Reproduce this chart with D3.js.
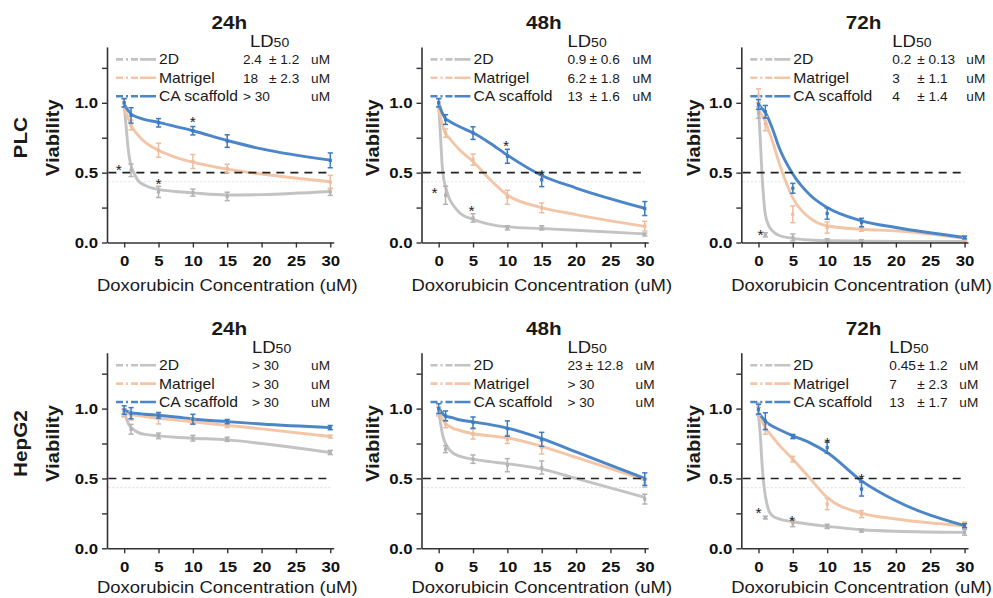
<!DOCTYPE html>
<html>
<head>
<meta charset="utf-8">
<script src="https://cdn.jsdelivr.net/npm/d3@7"></script>
<style>
  body { margin: 0; background: #fff; }
  svg { display: block; font-family: "Liberation Sans", Arial, sans-serif; }
</style>
</head>
<body>
<div id="chart"></div>
<script>
// measured doxorubicin concentrations (uM)
var conc = [0, 1, 5, 10, 15, 30];
// concentrations at which the fitted curves were read
var fitConc = [0, 0.25, 0.5, 0.75, 1, 1.5, 2, 3, 5, 7.5, 10, 15, 20, 30];

var series = ["2D", "Matrigel", "CA scaffold"];
var cellLines = ["PLC", "HepG2"];
var times = ["24h", "48h", "72h"];
var xTicks = [0, 5, 10, 15, 20, 25, 30];
var yTicks = [0, 0.25, 0.5, 0.75, 1, 1.25];
var yLabels = [0, 0.5, 1];

// --- PLC ---
var meanPLC24 = [[1.0, 0.517, 0.362, 0.357, 0.33, 0.362],
                 [1.0, 0.84, 0.66, 0.58, 0.53, 0.433],
                 [1.0, 0.91, 0.857, 0.80, 0.726, 0.588]];
var errPLC24  = [[0.03, 0.045, 0.04, 0.025, 0.03, 0.025],
                 [0.03, 0.035, 0.05, 0.05, 0.03, 0.048],
                 [0.03, 0.055, 0.03, 0.03, 0.045, 0.053]];
var fitPLC24  = [[0.98, 0.85, 0.71, 0.61, 0.55, 0.49, 0.445, 0.41, 0.38, 0.365, 0.355, 0.34, 0.343, 0.365],
                 [0.96, 0.93, 0.90, 0.87, 0.84, 0.80, 0.77, 0.72, 0.66, 0.61, 0.575, 0.525, 0.49, 0.435],
                 [0.99, 0.97, 0.95, 0.935, 0.92, 0.905, 0.895, 0.88, 0.86, 0.83, 0.80, 0.73, 0.67, 0.59]];
var starsPLC24 = [[-0.8, 0.53], [5, 0.43], [10, 0.88]];

var meanPLC48 = [[1.0, 0.338, 0.176, 0.105, 0.105, 0.057],
                 [1.0, 0.783, 0.593, 0.324, 0.248, 0.117],
                 [1.0, 0.88, 0.783, 0.617, 0.45, 0.243]];
var errPLC48  = [[0.03, 0.065, 0.03, 0.015, 0.015, 0.01],
                 [0.03, 0.03, 0.04, 0.05, 0.035, 0.035],
                 [0.03, 0.035, 0.045, 0.05, 0.05, 0.05]];
var fitPLC48  = [[0.98, 0.78, 0.56, 0.45, 0.40, 0.32, 0.275, 0.215, 0.165, 0.13, 0.112, 0.10, 0.088, 0.062],
                 [0.96, 0.90, 0.85, 0.81, 0.78, 0.75, 0.72, 0.665, 0.58, 0.45, 0.34, 0.25, 0.20, 0.115],
                 [0.99, 0.96, 0.93, 0.905, 0.885, 0.87, 0.855, 0.83, 0.785, 0.71, 0.625, 0.48, 0.39, 0.245]];
var starsPLC48 = [[-0.6, 0.37], [4.8, 0.243], [9.8, 0.705], [15, 0.5]];

var meanPLC72 = [[0.93, 0.055, 0.036, 0.017, 0.012, 0.007],
                 [1.05, 0.85, 0.202, 0.107, 0.095, 0.024],
                 [0.988, 0.936, 0.388, 0.207, 0.143, 0.036]];
var errPLC72  = [[0.04, 0.015, 0.025, 0.01, 0.008, 0.005],
                 [0.05, 0.05, 0.06, 0.04, 0.015, 0.01],
                 [0.035, 0.045, 0.035, 0.04, 0.03, 0.01]];
var fitPLC72  = [[0.96, 0.75, 0.50, 0.32, 0.20, 0.12, 0.085, 0.05, 0.03, 0.018, 0.012, 0.01, 0.008, 0.007],
                 [0.95, 0.93, 0.91, 0.89, 0.87, 0.80, 0.73, 0.57, 0.32, 0.175, 0.12, 0.095, 0.083, 0.03],
                 [0.99, 0.975, 0.96, 0.945, 0.93, 0.88, 0.82, 0.68, 0.49, 0.34, 0.25, 0.155, 0.107, 0.036]];
var starsPLC72 = [[0.3, 0.07]];

// --- HepG2 ---
var meanHep24 = [[0.97, 0.852, 0.805, 0.788, 0.78, 0.686],
                 [0.97, 0.948, 0.93, 0.907, 0.88, 0.80],
                 [0.99, 0.967, 0.952, 0.924, 0.907, 0.864]];
var errHep24  = [[0.025, 0.035, 0.02, 0.02, 0.015, 0.015],
                 [0.03, 0.03, 0.04, 0.02, 0.015, 0.01],
                 [0.03, 0.04, 0.02, 0.035, 0.015, 0.015]];
var fitHep24  = [[0.98, 0.94, 0.905, 0.88, 0.865, 0.845, 0.83, 0.815, 0.805, 0.795, 0.788, 0.776, 0.75, 0.686],
                 [0.97, 0.967, 0.963, 0.96, 0.957, 0.953, 0.95, 0.943, 0.93, 0.918, 0.905, 0.88, 0.855, 0.80],
                 [0.99, 0.985, 0.98, 0.975, 0.97, 0.967, 0.965, 0.96, 0.952, 0.94, 0.926, 0.907, 0.89, 0.864]];
var starsHep24 = [];

var meanHep48 = [[0.98, 0.71, 0.638, 0.595, 0.578, 0.352],
                 [0.98, 0.888, 0.817, 0.78, 0.72, 0.467],
                 [1.0, 0.948, 0.90, 0.857, 0.78, 0.495]];
var errHep48  = [[0.03, 0.025, 0.03, 0.047, 0.047, 0.035],
                 [0.03, 0.025, 0.035, 0.03, 0.045, 0.03],
                 [0.035, 0.035, 0.04, 0.055, 0.05, 0.045]];
var fitHep48  = [[0.98, 0.90, 0.83, 0.78, 0.75, 0.71, 0.685, 0.66, 0.638, 0.62, 0.605, 0.567, 0.50, 0.364],
                 [0.97, 0.95, 0.93, 0.91, 0.89, 0.875, 0.86, 0.845, 0.82, 0.805, 0.79, 0.73, 0.65, 0.49],
                 [1.0, 0.985, 0.97, 0.955, 0.945, 0.94, 0.935, 0.92, 0.905, 0.885, 0.86, 0.785, 0.69, 0.50]];
var starsHep48 = [];

var meanHep72 = [[1.0, 0.22, 0.18, 0.157, 0.126, 0.114],
                 [0.98, 0.852, 0.638, 0.317, 0.245, 0.167],
                 [0.995, 0.91, 0.80, 0.721, 0.424, 0.162]];
var errHep72  = [[0.04, 0.01, 0.025, 0.015, 0.01, 0.02],
                 [0.03, 0.035, 0.02, 0.04, 0.025, 0.02],
                 [0.035, 0.06, 0.015, 0.04, 0.05, 0.015]];
var fitHep72  = [[0.95, 0.82, 0.62, 0.47, 0.376, 0.27, 0.235, 0.21, 0.19, 0.172, 0.157, 0.133, 0.122, 0.114],
                 [0.96, 0.935, 0.91, 0.885, 0.86, 0.83, 0.80, 0.74, 0.638, 0.50, 0.364, 0.252, 0.21, 0.162],
                 [0.97, 0.955, 0.94, 0.925, 0.91, 0.89, 0.875, 0.85, 0.805, 0.755, 0.686, 0.483, 0.34, 0.162]];
var starsHep72 = [[0, 0.264], [4.9, 0.21], [10, 0.77], [15, 0.507]];

// LD50 annotations, per panel, per series
var ld50Value = [["2.4", "18", "> 30"], ["0.9", "6.2", "13"], ["0.2", "3", "4"],
                 ["> 30", "> 30", "> 30"], ["23", "> 30", "> 30"], ["0.45", "7", "13"]];
var ld50Err   = [["± 1.2", "± 2.3", ""], ["± 0.6", "± 1.8", "± 1.6"], ["± 0.13", "± 1.1", "± 1.4"],
                 ["", "", ""], ["± 12.8", "", ""], ["± 1.2", "± 2.3", "± 1.7"]];

var panelMeans = [meanPLC24, meanPLC48, meanPLC72, meanHep24, meanHep48, meanHep72];
var panelErrs  = [errPLC24, errPLC48, errPLC72, errHep24, errHep48, errHep72];
var panelFits  = [fitPLC24, fitPLC48, fitPLC72, fitHep24, fitHep48, fitHep72];
var panelStars = [starsPLC24, starsPLC48, starsPLC72, starsHep24, starsHep48, starsHep72];

// layout
var W = 993, H = 598;
var colX = [107, 421.5, 741.3];       // y-axis position of each column
var rowY0 = [242.5, 548.3];           // y = 0 of each row
var xlabelDrop = [48.5, 44.5];
var unitY = 139.7, unitX = 6.87;
var ylabelGap = [48.5, 43, 41.3];
var ldValX = [136, 146, 151, 145, 146, 148];
var ldLabX = [143, 146, 151, 145, 146, 148];
var ldErrX = [162, 168, 176, 0, 164, 176];
var ldUnitR = [223, 230, 244, 223, 233, 237];
var stretch = 1.12;

var colors = ["#c3c3c3", "#f3c6a8", "#4a86c8"];
var barColors = ["#b3b3b3", "#eebd9d", "#3b7bc3"];

var svg = d3.select("#chart").append("svg")
    .attr("width", W)
    .attr("height", H);

function addText(g, x, y, str, o) {
    o = o || {};
    var sx = o.sx || stretch;
    return g.append("text")
        .attr("transform", "translate(" + x + "," + y + ")" +
              (o.rotate ? " rotate(" + o.rotate + ")" : "") +
              " scale(" + sx + ",1)")
        .attr("font-size", o.size || 14)
        .attr("font-weight", o.weight || "normal")
        .attr("text-anchor", o.anchor || "start")
        .attr("fill", o.fill || "#1a1a1a")
        .text(str);
}

var line = d3.line().curve(d3.curveMonotoneX);

cellLines.forEach(function (cell, r) {
    times.forEach(function (time, c) {
        var p = r * 3 + c;
        var ax = colX[c], y0 = rowY0[r];

        var x = d3.scaleLinear().domain([-2.5, 30.5]).range([ax, ax + 33 * unitX]);
        var y = d3.scaleLinear().domain([0, 1.4]).range([y0, y0 - 1.4 * unitY]);
        var top = y(1.4);
        var g = svg.append("g");

        // faint dotted guide
        g.append("line")
            .attr("x1", x(-2.3)).attr("x2", x(30))
            .attr("y1", y(0.435)).attr("y2", y(0.435))
            .attr("stroke", "#e2e2e2").attr("stroke-width", 1.2)
            .attr("stroke-dasharray", "2,2");

        // fitted curves
        series.forEach(function (s, i) {
            g.append("path")
                .attr("d", line(fitConc.map(function (cx, k) { return [x(cx), y(panelFits[p][i][k])]; })))
                .attr("fill", "none")
                .attr("stroke", colors[i])
                .attr("stroke-width", 2.9);
        });

        // LD50 threshold
        g.append("line")
            .attr("x1", x(-2.3)).attr("x2", x(30))
            .attr("y1", y(0.5)).attr("y2", y(0.5))
            .attr("stroke", "#222").attr("stroke-width", 1.6)
            .attr("stroke-dasharray", "8,6");

        // error bars and points
        series.forEach(function (s, i) {
            var pts = conc.map(function (cx, k) {
                return { x: cx, m: panelMeans[p][i][k], e: panelErrs[p][i][k] };
            });
            var eb = g.append("g")
                .attr("stroke", barColors[i])
                .attr("stroke-width", 1.5);
            pts.forEach(function (d) {
                var px = x(d.x);
                eb.append("line").attr("x1", px).attr("x2", px)
                    .attr("y1", y(d.m - d.e)).attr("y2", y(d.m + d.e));
                eb.append("line").attr("x1", px - 2.6).attr("x2", px + 2.6)
                    .attr("y1", y(d.m - d.e)).attr("y2", y(d.m - d.e));
                eb.append("line").attr("x1", px - 2.6).attr("x2", px + 2.6)
                    .attr("y1", y(d.m + d.e)).attr("y2", y(d.m + d.e));
            });
            g.selectAll(null).data(pts).enter().append("rect")
                .attr("x", function (d) { return x(d.x) - 1.6; })
                .attr("y", function (d) { return y(d.m) - 1.6; })
                .attr("width", 3.2).attr("height", 3.2)
                .attr("fill", barColors[i]);
        });

        // significance stars
        panelStars[p].forEach(function (st) {
            addText(g, x(st[0]), y(st[1]) + 7, "*", { size: 14, anchor: "middle", fill: "#222" });
        });

        // axes
        var yAxis = d3.axisLeft(y)
            .tickValues(yTicks)
            .tickSize(5)
            .tickSizeOuter(0)
            .tickFormat(function (d) { return yLabels.indexOf(d) >= 0 ? d3.format(".1f")(d) : ""; });
        var xAxis = d3.axisBottom(x)
            .tickValues(xTicks)
            .tickSize(5)
            .tickSizeOuter(0);

        var gy = g.append("g").attr("transform", "translate(" + ax + ",0)").call(yAxis);
        var gx = g.append("g").attr("transform", "translate(0," + y0 + ")").call(xAxis);
        [gy, gx].forEach(function (a) {
            a.select(".domain").attr("stroke", "#333").attr("stroke-width", 1.6);
            a.selectAll(".tick line").attr("stroke", "#333").attr("stroke-width", 1.4);
            a.selectAll(".tick text")
                .attr("font-size", 15)
                .attr("font-weight", "bold")
                .attr("fill", "#111")
                .attr("font-family", "Liberation Sans, Arial, sans-serif")
                .attr("transform", "scale(" + stretch + ",1)");
        });
        gx.selectAll(".tick text").attr("dy", "1.05em");

        // titles and labels
        addText(g, x(15) + 2, top - 17.5, time, { size: 18.5, weight: "bold", anchor: "middle" });
        addText(g, x(15), y0 + xlabelDrop[r], "Doxorubicin Concentration (uM)", { size: 16.5, anchor: "middle" });
        addText(g, ax - ylabelGap[c], y(0.75), "Viability", { size: 18, weight: "bold", anchor: "middle", rotate: -90 });
        if (c === 0) {
            addText(g, 26.5, y(0.75), cell, { size: 18.5, weight: "bold", anchor: "middle", rotate: -90 });
        }

        // LD50 block
        var ld = addText(g, ax + ldLabX[p], top, "LD", { size: 16.5 });
        ld.append("tspan").attr("font-size", 12.5).text("50");

        series.forEach(function (s, i) {
            var by = top + 17.5 + i * 18.4;
            // legend sample: dash-dot then solid
            g.append("line")
                .attr("x1", ax + 9).attr("x2", ax + 49)
                .attr("y1", by - 5).attr("y2", by - 5)
                .attr("stroke", colors[i])
                .attr("stroke-width", 2.6)
                .attr("stroke-dasharray", "7,3,2,3,7,2,40");
            addText(g, ax + 52, by, s, { size: 14 });
            addText(g, ax + ldValX[p], by, ld50Value[p][i], { size: 13, sx: 1.05 });
            if (ld50Err[p][i]) addText(g, ax + ldErrX[p], by, ld50Err[p][i], { size: 13, sx: 1.05 });
            addText(g, ax + ldUnitR[p], by, "uM", { size: 13, anchor: "end", sx: 1.05 });
        });
    });
});
</script>
</body>
</html>
